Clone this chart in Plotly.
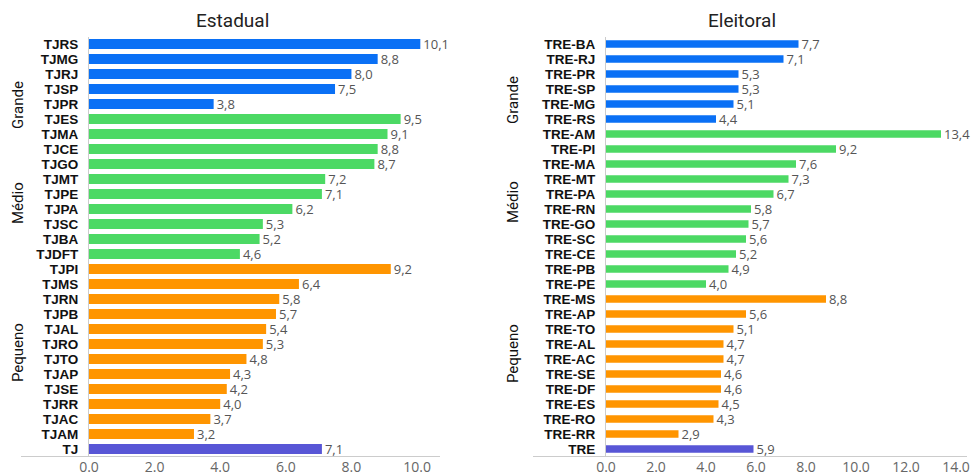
import plotly.graph_objects as go

# ---- data ----
est_grande = ["TJRS", "TJMG", "TJRJ", "TJSP", "TJPR"]
est_grande_v = [10.1, 8.8, 8.0, 7.5, 3.8]
est_medio = ["TJES", "TJMA", "TJCE", "TJGO", "TJMT", "TJPE", "TJPA", "TJSC", "TJBA", "TJDFT"]
est_medio_v = [9.5, 9.1, 8.8, 8.7, 7.2, 7.1, 6.2, 5.3, 5.2, 4.6]
est_pequeno = ["TJPI", "TJMS", "TJRN", "TJPB", "TJAL", "TJRO", "TJTO", "TJAP", "TJSE", "TJRR", "TJAC", "TJAM"]
est_pequeno_v = [9.2, 6.4, 5.8, 5.7, 5.4, 5.3, 4.8, 4.3, 4.2, 4.0, 3.7, 3.2]
est_total = ["TJ"]
est_total_v = [7.1]

ele_grande = ["TRE-BA", "TRE-RJ", "TRE-PR", "TRE-SP", "TRE-MG", "TRE-RS"]
ele_grande_v = [7.7, 7.1, 5.3, 5.3, 5.1, 4.4]
ele_medio = ["TRE-AM", "TRE-PI", "TRE-MA", "TRE-MT", "TRE-PA", "TRE-RN", "TRE-GO", "TRE-SC", "TRE-CE", "TRE-PB", "TRE-PE"]
ele_medio_v = [13.4, 9.2, 7.6, 7.3, 6.7, 5.8, 5.7, 5.6, 5.2, 4.9, 4.0]
ele_pequeno = ["TRE-MS", "TRE-AP", "TRE-TO", "TRE-AL", "TRE-AC", "TRE-SE", "TRE-DF", "TRE-ES", "TRE-RO", "TRE-RR"]
ele_pequeno_v = [8.8, 5.6, 5.1, 4.7, 4.7, 4.6, 4.6, 4.5, 4.3, 2.9]
ele_total = ["TRE"]
ele_total_v = [5.9]

x_ticks = [0, 2, 4, 6, 8, 10, 12, 14]
group_names = ["Grande", "Médio", "Pequeno"]

C_BLUE = "#0A70F5"
C_GREEN = "#4CD964"
C_ORANGE = "#FF9500"
C_PURPLE = "#5856D6"

W, H = 973, 475


def px_x(p):
    return p / W


def px_y(p):
    return 1 - p / H


fig = go.Figure()

def add_panel(groups, xa, ya, width):
    cats_all = [c for g, _, _ in groups for c in g]
    for cats, vals, col in groups:
        fig.add_trace(go.Bar(
            y=cats, x=vals, orientation="h",
            marker=dict(color=col, line=dict(width=0)),
            text=[f"{v:.1f}".replace(".", ",") for v in vals],
            textposition="outside", cliponaxis=False, constraintext="none",
            textfont=dict(family="Open Sans", size=13, color="#555555"),
            xaxis=xa, yaxis=ya, width=width, showlegend=False,
            hoverinfo="skip",
        ))
    return cats_all

cats_e = add_panel([(est_grande, est_grande_v, C_BLUE), (est_medio, est_medio_v, C_GREEN),
                    (est_pequeno, est_pequeno_v, C_ORANGE), (est_total, est_total_v, C_PURPLE)],
                   "x", "y", 0.68)
cats_l = add_panel([(ele_grande, ele_grande_v, C_BLUE), (ele_medio, ele_medio_v, C_GREEN),
                    (ele_pequeno, ele_pequeno_v, C_ORANGE), (ele_total, ele_total_v, C_PURPLE)],
                   "x2", "y2", 0.5)

ydom = [px_y(456.5), px_y(36.5)]
yaxis_common = dict(
    type="category", autorange=False, range=[27.5, -0.5], automargin=False,
    showline=True, linecolor="#cccccc", linewidth=1,
    ticks="", ticklabelstandoff=7, showgrid=False, tickmode="array",
    tickfont=dict(family="Liberation Sans", size=13.5, color="#111111", weight="bold"),
    domain=ydom,
)
xaxis_common = dict(
    showgrid=False, zeroline=False, showline=False, ticks="", automargin=False,
    tickvals=x_ticks, tickformat=".1f",
    tickfont=dict(family="Open Sans", size=14, color="#666666"),
)

fig.update_layout(
    width=W, height=H, margin=dict(l=0, r=0, t=0, b=0),
    paper_bgcolor="white", plot_bgcolor="white",
    xaxis=dict(xaxis_common, domain=[px_x(89), px_x(440)], range=[0, 10.7], anchor="y"),
    yaxis=dict(yaxis_common, categoryorder="array", categoryarray=cats_e,
               tickvals=cats_e, ticktext=cats_e, anchor="x"),
    xaxis2=dict(xaxis_common, domain=[px_x(606), px_x(966)], range=[0, 14.4], anchor="y2"),
    yaxis2=dict(yaxis_common, categoryorder="array", categoryarray=cats_l,
                tickvals=cats_l, ticktext=cats_l, anchor="x2"),
    bargap=0.3,
)

# bottom axis lines extending under labels
for x0, x1 in [(21, 440), (533, 967)]:
    fig.add_shape(type="line", xref="paper", yref="paper",
                  x0=px_x(x0), x1=px_x(x1), y0=px_y(456.5), y1=px_y(456.5),
                  line=dict(color="#cccccc", width=1))

# panel titles
for txt, xc in [("Estadual", 232), ("Eleitoral", 742)]:
    fig.add_annotation(text=txt, xref="paper", yref="paper", x=px_x(xc), y=px_y(20),
                       showarrow=False, xanchor="center", yanchor="middle",
                       font=dict(family="Roboto", size=19, color="#222222"))

# group labels
for xc, ys in [(18, [105, 203, 353]), (513, [100, 202, 354])]:
    for name, yc in zip(group_names, ys):
        fig.add_annotation(text=name, xref="paper", yref="paper", x=px_x(xc), y=px_y(yc),
                           showarrow=False, textangle=-90, xanchor="center", yanchor="middle",
                           font=dict(family="Roboto", size=15, color="#111111"))

fig.write_html("out.html", config={"displayModeBar": False},
               post_script="document.body.style.margin='0';")
